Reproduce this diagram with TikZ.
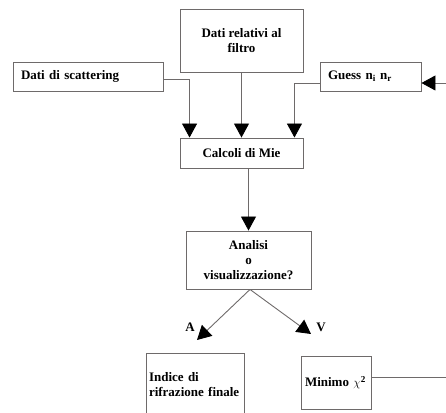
\documentclass[tikz,border=0pt]{standalone}
\usepackage{fontspec}
\setmainfont{Liberation Serif}
\usepackage{tikz}
\usetikzlibrary{arrows.meta,positioning}
\definecolor{linegray}{HTML}{6E6A6A}
\newcommand{\boxfont}{\fontsize{13}{15}\selectfont\bfseries\hyphenpenalty=10000\relax}
\tikzset{
  box/.style={rectangle,draw=linegray,line width=0.9pt,fill=white,
    font=\boxfont,inner sep=0pt},
  leftbox/.style={box,align=left,inner xsep=8pt},
  midbox/.style={box,align=center},
  arrow/.style={-{Triangle[length=14pt,width=15pt,color=black]},line width=0.9pt,draw=linegray},
  plain/.style={line width=0.9pt,draw=linegray},
  lab/.style={font=\boxfont}
}
\begin{document}
\begin{tikzpicture}[x=1pt,y=1pt]
\useasboundingbox (0,0) rectangle (446,412);
\clip (0,0) rectangle (446,412);
% input boxes
\node[midbox,minimum width=123pt,minimum height=63pt] (filtro) at (241.5,371.5) {Dati relativi al\\filtro};
\node[leftbox,text width=134pt,minimum height=29pt] (scatter) at (88,335.5) {Dati di scattering};
\node[leftbox,text width=85pt,minimum height=29pt] (guess) at (370.5,335.5) {Guess n\textsubscript{i} n\textsubscript{r}};
\node[midbox,minimum width=123pt,minimum height=30pt] (mie) at (241.5,259) {Calcoli di Mie};
\node[midbox,minimum width=125pt,minimum height=58pt] (analisi) at (248.5,152) {Analisi\\o\\visualizzazione?};
\node[leftbox,inner xsep=3pt,text width=92pt,minimum height=64pt] (indice) at (195,27) {Indice di\\rifrazione finale};
\node[leftbox,inner xsep=4pt,text width=62pt,minimum height=53pt] (minimo) at (336,29.5) {Minimo $\chi$\textsuperscript{2}};
% free ends
\coordinate (loopin) at (446,329);
\coordinate (loopout) at (446,35);
\coordinate (tipA) at (197,72);
\coordinate (tipV) at (311,78);
% connectors
\draw[arrow] ([yshift=-2.5pt]scatter.east) -| ([xshift=10pt]mie.north west);
\draw[arrow] (filtro.south) -- (mie.north);
\draw[arrow] ([yshift=-6.5pt]guess.west) -| ([xshift=-9pt]mie.north east);
\draw[arrow] (loopin) -- (loopin -| guess.east);
\draw[arrow] (mie.south -| analisi.north) -- (analisi.north);
\draw[arrow] ([xshift=1.5pt]analisi.south) -- (tipA);
\draw[arrow] ([xshift=1.5pt]analisi.south) -- (tipV);
\draw[plain] (loopout -| minimo.east) -- (loopout);
\node[lab] (labA) at (190,85) {A};
\node[lab] (labV) at (321,85) {V};
\end{tikzpicture}
\end{document}
